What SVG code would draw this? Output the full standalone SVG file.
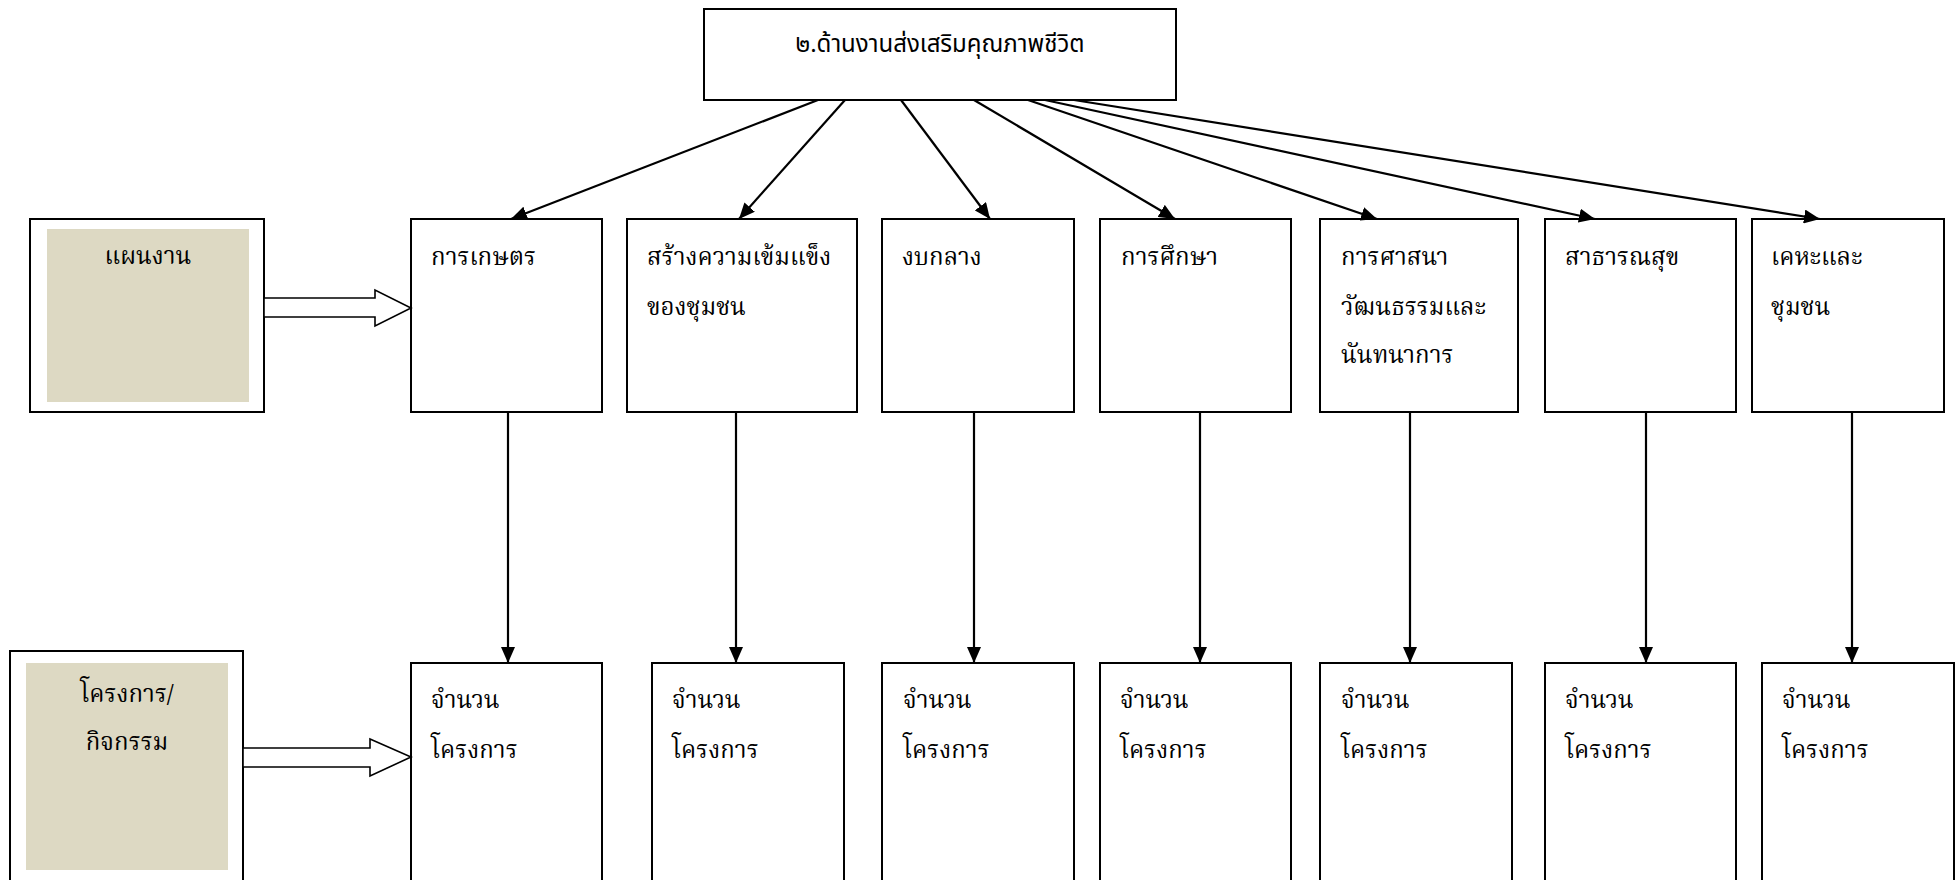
<svg xmlns="http://www.w3.org/2000/svg" width="1958" height="880" viewBox="0 0 1958 880">
<style>
.box{fill:#fff;stroke:#000;stroke-width:2}
.beige{fill:#DDD9C3;stroke:none}
.tt{font-family:"Noto Sans Thai","Noto Sans",sans-serif;font-size:24px;fill:#000}
.t{font-family:"Noto Serif Thai","Liberation Serif",serif;font-size:24px;fill:#000}
.c{stroke:#000;stroke-width:2.2;fill:none;marker-end:url(#ah)}
.blk{fill:#fff;stroke:#000;stroke-width:1.6}
</style>
<defs>
<marker id="ah" markerUnits="userSpaceOnUse" markerWidth="16" markerHeight="14" refX="16" refY="7" orient="auto">
<path d="M0,0 L16,7 L0,14 Z" fill="#000"/>
</marker>
</defs>
<rect width="1958" height="880" fill="#fff"/>
<g id="top">
<rect class="box" x="704" y="9" width="472" height="91"/>
<text class="tt" x="940" y="52" text-anchor="middle">๒.ด้านงานส่งเสริมคุณภาพชีวิต</text>
</g>
<g id="plan">
<rect class="box" x="30" y="219" width="234" height="193"/>
<rect class="beige" x="47" y="229" width="202" height="173"/>
<text class="t" x="148" y="264" text-anchor="middle">แผนงาน</text>
</g>
<g id="project">
<rect class="box" x="10" y="651" width="233" height="240"/>
<rect class="beige" x="26" y="663" width="202" height="207"/>
<text class="t" x="127" y="702" text-anchor="middle">โครงการ/</text>
<text class="t" x="127" y="750" text-anchor="middle">กิจกรรม</text>
</g>
<g id="r1">
<g id="n1"><rect class="box" x="411" y="219" width="191" height="193"/><text class="t" x="431" y="265">การเกษตร</text></g>
<g id="n2"><rect class="box" x="627" y="219" width="230" height="193"/><text class="t" x="647" y="265">สร้างความเข้มแข็ง</text><text class="t" x="647" y="315">ของชุมชน</text></g>
<g id="n3"><rect class="box" x="882" y="219" width="192" height="193"/><text class="t" x="902" y="265">งบกลาง</text></g>
<g id="n4"><rect class="box" x="1100" y="219" width="191" height="193"/><text class="t" x="1121" y="265">การศึกษา</text></g>
<g id="n5"><rect class="box" x="1320" y="219" width="198" height="193"/><text class="t" x="1341" y="265">การศาสนา</text><text class="t" x="1341" y="315">วัฒนธรรมและ</text><text class="t" x="1341" y="363">นันทนาการ</text></g>
<g id="n6"><rect class="box" x="1545" y="219" width="191" height="193"/><text class="t" x="1565" y="265">สาธารณสุข</text></g>
<g id="n7"><rect class="box" x="1752" y="219" width="192" height="193"/><text class="t" x="1771" y="265">เคหะและ</text><text class="t" x="1771" y="315">ชุมชน</text></g>
</g>
<g id="r2">
<g id="m1"><rect class="box" x="411" y="663" width="191" height="240"/><text class="t" x="431" y="708">จำนวน</text><text class="t" x="431" y="758">โครงการ</text></g>
<g id="m2"><rect class="box" x="652" y="663" width="192" height="240"/><text class="t" x="672" y="708">จำนวน</text><text class="t" x="672" y="758">โครงการ</text></g>
<g id="m3"><rect class="box" x="882" y="663" width="192" height="240"/><text class="t" x="903" y="708">จำนวน</text><text class="t" x="903" y="758">โครงการ</text></g>
<g id="m4"><rect class="box" x="1100" y="663" width="191" height="240"/><text class="t" x="1120" y="708">จำนวน</text><text class="t" x="1120" y="758">โครงการ</text></g>
<g id="m5"><rect class="box" x="1320" y="663" width="192" height="240"/><text class="t" x="1341" y="708">จำนวน</text><text class="t" x="1341" y="758">โครงการ</text></g>
<g id="m6"><rect class="box" x="1545" y="663" width="191" height="240"/><text class="t" x="1565" y="708">จำนวน</text><text class="t" x="1565" y="758">โครงการ</text></g>
<g id="m7"><rect class="box" x="1762" y="663" width="192" height="240"/><text class="t" x="1782" y="708">จำนวน</text><text class="t" x="1782" y="758">โครงการ</text></g>
</g>
<g id="connectors">
<polygon class="blk" points="264,298 375,298 375,290 411,308 375,326 375,317 264,317"/>
<polygon class="blk" points="243,748 370,748 370,739 411,757 370,776 370,767 243,767"/>
<line class="c" x1="818" y1="100" x2="511" y2="219"/>
<line class="c" x1="845" y1="100" x2="739" y2="219"/>
<line class="c" x1="901" y1="100" x2="990" y2="219"/>
<line class="c" x1="974" y1="100" x2="1175" y2="219"/>
<line class="c" x1="1028" y1="100" x2="1377" y2="219"/>
<line class="c" x1="1045" y1="100" x2="1595" y2="219"/>
<line class="c" x1="1074" y1="100" x2="1820" y2="219"/>
<line class="c" x1="508" y1="412" x2="508" y2="663"/>
<line class="c" x1="736" y1="412" x2="736" y2="663"/>
<line class="c" x1="974" y1="412" x2="974" y2="663"/>
<line class="c" x1="1200" y1="412" x2="1200" y2="663"/>
<line class="c" x1="1410" y1="412" x2="1410" y2="663"/>
<line class="c" x1="1646" y1="412" x2="1646" y2="663"/>
<line class="c" x1="1852" y1="412" x2="1852" y2="663"/>
</g>
</svg>
